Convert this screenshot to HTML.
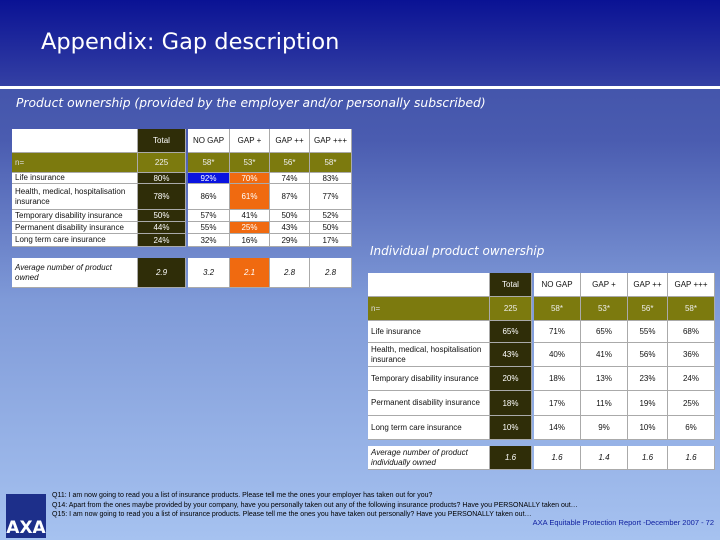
<!DOCTYPE html>
<html><head><meta charset="utf-8"><style>
body{margin:0;width:720px;height:540px;overflow:hidden;font-family:"DejaVu Sans","Liberation Sans",sans-serif;}
#slide{position:relative;width:720px;height:540px;background:linear-gradient(#3a4aa4 0px,#4a5cb0 140px,#7f9ad8 300px,#a6c2f0 540px);}
#top{position:absolute;left:0;top:0;width:720px;height:86px;background:linear-gradient(#0a1294,#3440a4);}
#line{position:absolute;left:0;top:86px;width:720px;height:3px;background:#fff;}
.c{position:absolute;box-sizing:border-box;font-family:"Liberation Sans",sans-serif;font-size:8px;display:flex;align-items:center;justify-content:center;color:#111;border-right:1px solid #aaa;border-bottom:1px solid #aaa;white-space:nowrap;}
.l{justify-content:flex-start;padding-left:3px;line-height:10px;white-space:normal;}
</style></head><body>
<div id="slide">
<div id="top"></div>
<div id="line"></div>
<div style="position:absolute;left:41px;top:29px;color:#fff;font-size:22.5px;">Appendix: Gap description</div>
<div style="position:absolute;left:16px;top:96px;color:#fff;font-size:12.3px;font-style:italic;">Product ownership (provided by the employer and/or personally subscribed)</div>
<div style="position:absolute;left:370px;top:244px;color:#fff;font-size:12px;font-style:italic;">Individual product ownership</div>
<div id="t1"></div><div id="t2"></div>
<div style="position:absolute;left:6px;top:494px;width:40px;height:44px;background:#1d2f8a;color:#fff;font-size:17px;font-weight:bold;display:flex;align-items:flex-end;justify-content:center;">AXA</div>
<div style="position:absolute;left:52px;top:491px;font-family:'Liberation Sans',sans-serif;font-size:7px;line-height:9.5px;color:#000;">Q11: I am now going to read you a list of insurance products. Please tell me the ones your employer has taken out for you?<br>Q14: Apart from the ones maybe provided by your company, have you personally taken out any of the following insurance products? Have you PERSONALLY taken out…<br>Q15: I am now going to read you a list of insurance products. Please tell me the ones you have taken out personally? Have you PERSONALLY taken out…</div>
<div style="position:absolute;right:6px;top:518px;font-family:'Liberation Sans',sans-serif;font-size:7.5px;color:#1020a0;">AXA Equitable Protection Report -December 2007 - 72</div>
</div>
<script>
const heads=["Total","NO GAP","GAP +","GAP ++","GAP +++"];
const labels=["Life insurance","Health, medical, hospitalisation insurance","Temporary disability insurance","Permanent disability insurance","Long term care insurance"];
const nVals=["225","58*","53*","56*","58*"];
const t1Vals=[["80%","92%","70%","74%","83%"],["78%","86%","61%","87%","77%"],["50%","57%","41%","50%","52%"],["44%","55%","25%","43%","50%"],["24%","32%","16%","29%","17%"]];
const t1Avg=["2.9","3.2","2.1","2.8","2.8"];
const t1Hi={"0,1":"#0a14e0","0,2":"#f06a10","1,2":"#f06a10","3,2":"#f06a10","avg,2":"#f06a10"};
const t2Vals=[["65%","71%","65%","55%","68%"],["43%","40%","41%","56%","36%"],["20%","18%","13%","23%","24%"],["18%","17%","11%","19%","25%"],["10%","14%","9%","10%","6%"]];
const t2Avg=["1.6","1.6","1.4","1.6","1.6"];
function cell(p,x,y,w,h,txt,bg,col,cls,name){
 const d=document.createElement('div');
 d.className='c'+(cls?' '+cls:'');
 d.style.cssText=`left:${x}px;top:${y}px;width:${w}px;height:${h}px;background:${bg};color:${col};`;
 d.textContent=txt;
 
 
 p.appendChild(d);
}
function build(id,xs,ys,avgY,avgH,vals,avg,hi){
 const p=document.getElementById(id);
 
 
 const dark='#2f2d08',olive='#7c7a0e';
 const w=i=>xs[i+1]-xs[i];
 const cx=k=>xs[k]+(k===2?2:0), cw=k=>w(k)-(k===2?2:0);
 cell(p,xs[0],ys[0],w(0),ys[1]-ys[0],'','#fff','#000','','header-blank');
 for(let j=0;j<5;j++){const k=j+1;
  cell(p,cx(k),ys[0],cw(k),ys[1]-ys[0],heads[j],j===0?dark:'#fff',j===0?'#fff':'#111','','col-header');}
 cell(p,xs[0],ys[1],w(0),ys[2]-ys[1],'n=',olive,'#ddd','l','n-label');
 for(let j=0;j<5;j++){const k=j+1;
  cell(p,cx(k),ys[1],cw(k),ys[2]-ys[1],nVals[j],olive,'#eee','','n-value');}
 for(let i=0;i<5;i++){const y=ys[i+2],h=ys[i+3]-ys[i+2];
  cell(p,xs[0],y,w(0),h,labels[i],'#fff','#111','l','row-label');
  for(let j=0;j<5;j++){const k=j+1;const c=hi[i+','+j];
   cell(p,cx(k),y,cw(k),h,vals[i][j],j===0?dark:(c||'#fff'),(j===0||c)?'#fff':'#111','','value-cell');}}
 cell(p,xs[0],avgY,w(0),avgH,'Average number of product '+(id==='t2'?'individually owned':'owned'),'#fff','#111','l','avg-label');
 p.lastChild.style.fontStyle='italic';
 for(let j=0;j<5;j++){const k=j+1;const c=hi['avg,'+j];
  cell(p,cx(k),avgY,cw(k),avgH,avg[j],j===0?dark:(c||'#fff'),(j===0||c)?'#fff':'#111','','avg-value');
  p.lastChild.style.fontStyle='italic';}
}
build('t1',[12,138,186,230,270,310,352],[129,153,173,184,210,222,234,247],258,30,t1Vals,t1Avg,t1Hi);
build('t2',[368,490,532,581,628,668,715],[273,297,321,343,367,391,416,440],446,24,t2Vals,t2Avg,{});
</script>
</body></html>
